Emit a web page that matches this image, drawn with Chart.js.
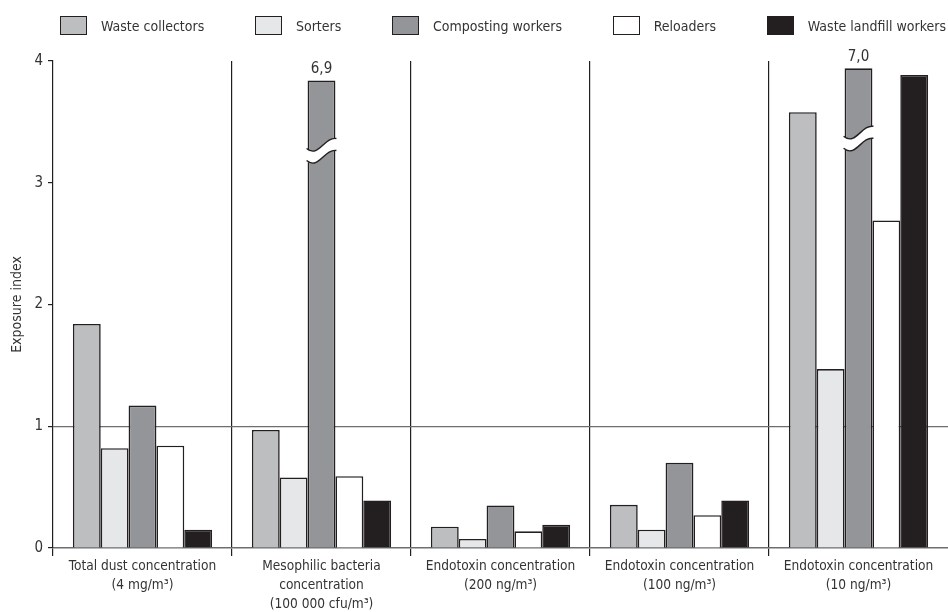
<!DOCTYPE html>
<html>
<head>
<meta charset="utf-8">
<script src="https://cdn.jsdelivr.net/npm/chart.js@4.4.1/dist/chart.umd.min.js"></script>
<style>
  body { margin: 0; background: #fff; }
  #wrap { position: relative; width: 948px; height: 612px; }
  #legend {
    position: absolute; left: 60px; top: 16px; width: 886px;
    display: flex; justify-content: space-between;
    font: 14px "DejaVu Sans Condensed", "Liberation Sans Narrow", sans-serif; color: #333;
  }
  .item { display: flex; align-items: center; height: 19px; }
  .box { width: 27px; height: 19px; box-sizing: border-box; border: 1px solid #231f20; margin-right: 14px; }
</style>
</head>
<body>
<div id="wrap">
  <canvas id="chart"></canvas>
  <div id="legend"></div>
</div>
<script>
// categories (x axis), one line per array entry
const categories = [
  ["Total dust concentration", "(4 mg/m³)"],
  ["Mesophilic bacteria", "concentration", "(100 000 cfu/m³)"],
  ["Endotoxin concentration", "(200 ng/m³)"],
  ["Endotoxin concentration", "(100 ng/m³)"],
  ["Endotoxin concentration", "(10 ng/m³)"]
];

const seriesNames = ["Waste collectors", "Sorters", "Composting workers", "Reloaders", "Waste landfill workers"];

// exposure index per group
const wasteCollectors   = [1.84, 0.97, 0.175, 0.355, 3.58];
const sorters           = [0.82, 0.58, 0.074, 0.15, 1.47];
const compostingWorkers = [1.17, 6.9, 0.35, 0.70, 7.0];
const reloaders         = [0.84, 0.59, 0.137, 0.27, 2.69];
const landfillWorkers   = [0.15, 0.39, 0.19, 0.39, 3.885];

const yTicks = [0, 1, 2, 3, 4];

const colors = ["#bcbec0", "#e6e7e8", "#939598", "#ffffff", "#231f20"];
const ink = "#231f20";
const FONT = '"DejaVu Sans Condensed", "Liberation Sans Narrow", sans-serif';

// values above the axis top are drawn on a broken axis, shifted down by this much
const yMax = yTicks[yTicks.length - 1];
const breakShift = 3.06;
const broken = v => (v > yMax ? v - breakShift : v);

const series = [wasteCollectors, sorters, compostingWorkers, reloaders, landfillWorkers];

// html legend
const legend = document.getElementById("legend");
seriesNames.forEach((name, i) => {
  const item = document.createElement("div");
  item.className = "item";
  item.innerHTML = `<span class="box" style="background:${colors[i]}"></span><span>${name}</span>`;
  legend.appendChild(item);
});

// draws the axis break and the real value over broken bars
const breakPlugin = {
  id: "breaks",
  afterDatasetsDraw(chart) {
    const ctx = chart.ctx;
    series.forEach((data, d) => {
      const meta = chart.getDatasetMeta(d);
      data.forEach((v, i) => {
        if (v <= yMax) return;
        const bar = meta.data[i];
        const w = bar.width;
        const x0 = bar.x - w / 2, x1 = bar.x + w / 2;
        const yc = bar.y + 69;
        const gap = 12;
        const edge = (dy) => {
          ctx.moveTo(x0 - 1, yc - 1 + dy);
          ctx.bezierCurveTo(x0 + 0.4 * w, yc + 9 + dy, x0 + 0.6 * w, yc - 13 + dy, x1 + 1, yc - 11 + dy);
        };
        ctx.save();
        // white gap
        ctx.beginPath();
        ctx.moveTo(x0 - 2, yc - 1);
        ctx.bezierCurveTo(x0 + 0.4 * w, yc + 9, x0 + 0.6 * w, yc - 13, x1 + 2, yc - 11);
        ctx.lineTo(x1 + 2, yc - 11 + gap);
        ctx.bezierCurveTo(x0 + 0.6 * w, yc - 13 + gap, x0 + 0.4 * w, yc + 9 + gap, x0 - 2, yc - 1 + gap);
        ctx.closePath();
        ctx.fillStyle = "#fff";
        ctx.fill();
        // gap outlines
        ctx.beginPath();
        edge(0);
        edge(gap);
        ctx.strokeStyle = ink;
        ctx.lineWidth = 1.4;
        ctx.stroke();
        // real value
        ctx.fillStyle = "#333";
        ctx.font = "15px " + FONT;
        ctx.textAlign = "center";
        ctx.textBaseline = "alphabetic";
        ctx.fillText(v.toFixed(1).replace(".", ","), bar.x, bar.y - 7);
        ctx.restore();
      });
    });
  }
};

new Chart(document.getElementById("chart"), {
  type: "bar",
  plugins: [breakPlugin],
  data: {
    labels: categories,
    datasets: series.map((data, i) => ({
      label: seriesNames[i],
      data: data.map(broken),
      backgroundColor: colors[i],
      borderColor: ink,
      borderWidth: 1.6,
      barPercentage: 1,
      categoryPercentage: 0.778
    }))
  },
  options: {
    responsive: true,
    maintainAspectRatio: false,
    animation: false,
    layout: { padding: { top: 61, right: 0, left: 0, bottom: 0 } },
    plugins: {
      legend: { display: false },
      tooltip: { enabled: false }
    },
    scales: {
      x: {
        afterFit(s) { s.height = 64; },
        grid: {
          offset: true,
          color: c => (c.index > 0 && c.index < categories.length ? ink : "transparent"),
          tickColor: c => (c.index < categories.length ? ink : "transparent"),
          lineWidth: 1.2,
          tickLength: 8
        },
        border: { display: true, color: "#6d6e71", width: 1.5 },
        ticks: {
          color: "#333",
          font: { family: FONT, size: 13.6, lineHeight: 1.4 },
          padding: 1,
          maxRotation: 0,
          autoSkip: false
        }
      },
      y: {
        z: 1,
        min: 0,
        max: yMax,
        afterFit(s) { s.width = 53; },
        afterBuildTicks(s) { s.ticks = yTicks.map(v => ({ value: v })); },
        grid: {
          color: c => (c.tick && c.tick.value === 1 ? "#6d6e71" : "transparent"),
          tickColor: ink,
          lineWidth: 1.2,
          tickLength: 5
        },
        border: { display: true, color: ink, width: 1.2 },
        ticks: {
          color: "#333",
          font: { family: FONT, size: 15 },
          padding: 5
        },
        title: {
          display: true,
          text: "Exposure index",
          color: "#333",
          font: { family: FONT, size: 14 },
          padding: { top: 9, bottom: 0 }
        }
      }
    }
  }
});
</script>
</body>
</html>
